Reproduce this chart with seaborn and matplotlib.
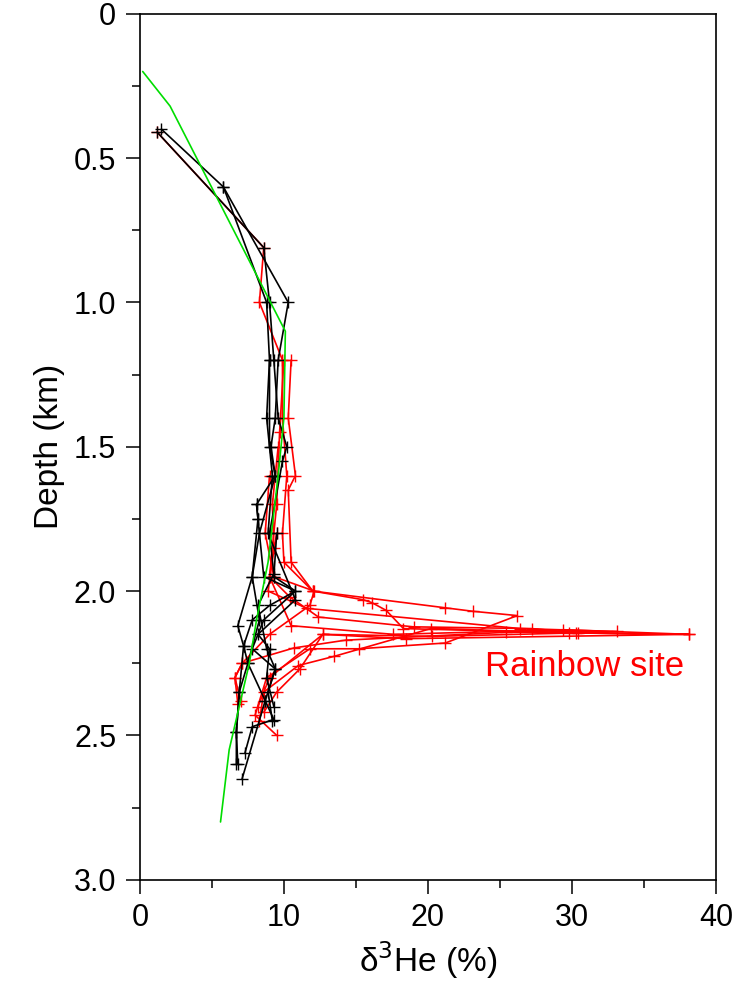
import numpy as np
import pandas as pd
import matplotlib
matplotlib.use("Agg")
import matplotlib.pyplot as plt
import seaborn as sns

# ---------------- data ----------------
# green reference profile
green_he = [0.2, 2.1, 10.1, 10.0, 9.6, 8.9, 8.1, 7.6, 6.2, 5.6]
green_depth = [0.2, 0.32, 1.1, 1.4, 1.6, 1.9, 2.1, 2.25, 2.55, 2.8]

# black profiles (off-axis stations)
b1_he = [1.5, 5.8, 10.3, 9.6, 9.4, 9.1, 9.4, 8.1, 8.2, 8.6, 10.8, 9.0, 7.8, 7.2, 7.5, 6.9, 6.7, 6.8]
b1_depth = [0.40, 0.60, 1.0, 1.2, 1.4, 1.5, 1.6, 1.7, 1.75, 1.95, 2.0, 2.05, 2.1, 2.19, 2.25, 2.35, 2.49, 2.6]
b2_he = [1.2, 8.6, 9.0, 9.3, 9.6, 10.2, 9.9, 9.0, 9.3, 8.2, 8.8, 9.4, 8.7, 7.1]
b2_depth = [0.41, 0.81, 1.0, 1.2, 1.4, 1.5, 1.55, 1.8, 1.94, 2.05, 2.2, 2.27, 2.38, 2.65]
b3_he = [5.8, 8.8, 9.0, 9.0, 9.4, 8.3, 7.8, 8.3, 7.5, 8.7, 9.3, 7.8, 7.3]
b3_depth = [0.60, 1.0, 1.2, 1.5, 1.6, 1.8, 1.95, 2.1, 2.25, 2.38, 2.445, 2.47, 2.56]
b4_he = [9.0, 8.8, 9.2, 8.9, 10.8, 8.2, 9.0, 8.8, 9.3]
b4_depth = [1.2, 1.4, 1.6, 1.8, 2.03, 2.15, 2.2, 2.3, 2.4]
b5_he = [8.1, 8.2, 7.8, 6.8, 7.2, 6.9, 6.7, 6.7]
b5_depth = [1.7, 1.75, 1.95, 2.12, 2.19, 2.35, 2.49, 2.6]
b6_he = [9.5, 9.3, 10.8, 8.6, 7.8, 9.4, 8.9, 9.2]
b6_depth = [1.8, 1.95, 2.0, 2.1, 2.2, 2.27, 2.35, 2.45]

# red profiles (Rainbow site)
r1_he = [1.2, 8.6, 8.3, 9.9, 9.9, 10.2, 9.9, 10.0, 12.0, 21.2, 23.1, 26.2, 21.2, 15.2, 11.8, 8.8, 8.0, 9.5]
r1_depth = [0.41, 0.81, 1.0, 1.2, 1.4, 1.6, 1.8, 1.9, 2.0, 2.058, 2.07, 2.085, 2.18, 2.2, 2.2, 2.3, 2.43, 2.5]
r2_he = [10.5, 10.3, 10.8, 10.3, 10.5, 12.0, 15.5, 16.1, 17.1, 18.3, 29.8, 38.1, 30.3, 20.3, 12.7, 9.0, 8.2]
r2_depth = [1.2, 1.4, 1.6, 1.65, 1.9, 2.0, 2.03, 2.04, 2.067, 2.13, 2.145, 2.15, 2.145, 2.157, 2.15, 2.3, 2.4]
r3_he = [9.6, 9.2, 9.3, 8.9, 11.6, 26.4, 33.1, 25.4, 14.3, 10.7, 7.1, 6.6, 6.8]
r3_depth = [1.5, 1.7, 1.85, 2.0, 2.06, 2.13, 2.14, 2.143, 2.17, 2.197, 2.25, 2.3, 2.39]
r4_he = [10.0, 9.7, 9.5, 9.0, 10.4, 12.4, 19.0, 27.2, 30.4, 20.2, 13.5, 11.0, 8.6, 8.3]
r4_depth = [1.2, 1.45, 1.7, 1.95, 2.02, 2.09, 2.124, 2.13, 2.145, 2.13, 2.226, 2.258, 2.35, 2.45]
r5_he = [9.5, 9.0, 10.5, 17.6, 29.4, 38.1, 18.5, 12.7, 11.1, 9.5, 8.6]
r5_depth = [1.8, 1.95, 2.12, 2.15, 2.134, 2.15, 2.165, 2.15, 2.27, 2.35, 2.42]
r6_he = [9.0, 8.7, 9.3, 12.1, 11.8, 9.0, 7.1, 6.6, 7.0]
r6_depth = [1.6, 1.8, 1.95, 2.0, 2.05, 2.15, 2.25, 2.3, 2.38]

x_ticks = [0, 10, 20, 30, 40]
y_ticks = [0, 0.5, 1.0, 1.5, 2.0, 2.5, 3.0]
y_tick_labels = ["0", "0.5", "1.0", "1.5", "2.0", "2.5", "3.0"]


def build(profiles):
    frames = []
    for i, (he, dep) in enumerate(profiles):
        frames.append(pd.DataFrame({"he": he, "depth": dep, "station": i, "order": range(len(he))}))
    return pd.concat(frames, ignore_index=True)


black_df = build([(b1_he, b1_depth), (b2_he, b2_depth), (b3_he, b3_depth),
                  (b4_he, b4_depth), (b5_he, b5_depth), (b6_he, b6_depth)])
red_df = build([(r1_he, r1_depth), (r2_he, r2_depth), (r3_he, r3_depth),
                (r4_he, r4_depth), (r5_he, r5_depth), (r6_he, r6_depth)])
green_df = pd.DataFrame({"he": green_he, "depth": green_depth})

# ---------------- plot ----------------
sns.set_theme(style="white")
plt.rcParams["font.family"] = ["Liberation Sans", "DejaVu Sans"]

fig = plt.figure(figsize=(7.36, 9.84), dpi=100)
ax = fig.add_axes([0.190, 0.106, 0.783, 0.880])

sns.lineplot(data=red_df, x="he", y="depth", units="station", estimator=None,
             sort=False, color="#ff0000", linewidth=1.2, marker="+",
             markersize=9, markeredgecolor="#ff0000", markeredgewidth=1.0,
             ax=ax, zorder=2)
sns.lineplot(data=black_df, x="he", y="depth", units="station", estimator=None,
             sort=False, color="black", linewidth=1.2, marker="+",
             markersize=9, markeredgecolor="black", markeredgewidth=1.0,
             ax=ax, zorder=3)
sns.lineplot(data=green_df, x="he", y="depth", sort=False, color="#00dd00",
             linewidth=1.2, ax=ax, zorder=4)

ax.set_xlim(0, 40)
ax.set_ylim(3.0, 0)
ax.set_xticks(x_ticks)
ax.set_xticks([5, 15, 25, 35], minor=True)
ax.set_yticks(y_ticks)
ax.set_yticklabels(y_tick_labels)
ax.set_yticks(np.arange(0.25, 3.0, 0.5), minor=True)

ax.tick_params(axis="both", which="major", direction="out", length=10, width=1.1,
               labelsize=22, color="black", labelcolor="black", pad=7,
               bottom=True, left=True, top=False, right=False)
ax.tick_params(axis="both", which="minor", direction="out", length=5.5, width=1.1,
               color="black", bottom=True, left=True, top=False, right=False)

for s in ax.spines.values():
    s.set_visible(True)
    s.set_color("black")
    s.set_linewidth(1.2)

ax.set_xlabel("δ$^{3}$He (%)", fontsize=24, color="black", labelpad=4)
ax.set_ylabel("Depth (km)", fontsize=24, color="black", labelpad=6)
ax.grid(False)
if ax.get_legend() is not None:
    ax.get_legend().remove()

ax.text(30.9, 2.26, "Rainbow site", color="#ff0000", fontsize=25,
        ha="center", va="center")

fig.savefig("out.png", dpi=100, facecolor="white")
